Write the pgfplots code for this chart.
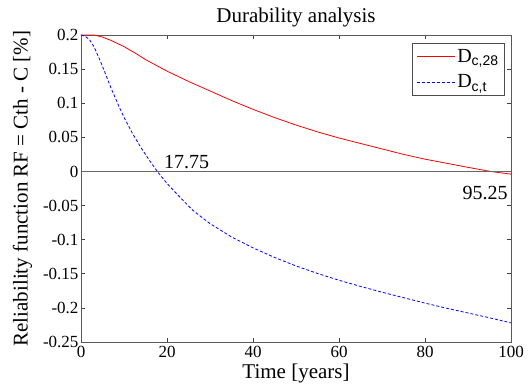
\documentclass[border=0pt]{standalone}
\usepackage{fontspec}
\setmainfont{Liberation Serif}
\newfontfamily\subsans{Liberation Sans}
\usepackage{pgfplots}
\pgfplotsset{compat=1.18}
\pgfplotsset{mylegimg/.style={legend image code/.code={\draw[mark repeat=2,mark phase=2,##1] plot coordinates {(0pt,0pt) (19pt,0pt) (38pt,0pt)};}}}
\begin{document}
\begin{tikzpicture}[x=1pt,y=1pt]
\useasboundingbox (-81,-43) rectangle (451,342);
\begin{axis}[
  at={(0,0)}, anchor=south west,
  scale only axis, width=430pt, height=307pt,
  xmin=0, xmax=100, ymin=-0.25, ymax=0.2,
  xtick={0,20,40,60,80,100},
  ytick={-0.25,-0.2,-0.15,-0.1,-0.05,0,0.05,0.1,0.15,0.2},
  yticklabels={-0.25,-0.2,-0.15,-0.1,-0.05,0,0.05,0.1,0.15,0.2},
  xticklabels={0,20,40,60,80,100},
  tick align=inside, major tick length=4pt,
  tick style={black!75, line width=0.6pt},
  axis line style={black!65, line width=0.8pt},
  ticklabel style={font=\fontsize{17}{20}\selectfont},
  xticklabel style={yshift=-1pt},
  yticklabel style={xshift=1pt},
  title={Durability analysis},
  title style={font=\fontsize{21}{24}\selectfont, yshift=-2pt},
  xlabel={Time [years]},
  ylabel={Reliability function RF = Cth - C [\%]},
  label style={font=\fontsize{21}{24}\selectfont},
  xlabel style={yshift=1pt},
  ylabel style={yshift=4pt},
  mylegimg,
  legend style={at={(0.986,0.974)}, anchor=north east, draw=black!70, line width=0.6pt,
    font=\fontsize{20}{22}\selectfont, inner xsep=4pt, inner ysep=4pt, row sep=7pt},
  legend cell align=left,
  clip=false,
]
\addplot[color=red, draw=red, line width=0.8pt] coordinates {
(0,0.200) (3,0.200) (4,0.1985) (5,0.197) (7,0.192) (10,0.183) (13,0.172) (15,0.164)
(20,0.147) (25,0.132) (30,0.118) (35,0.104) (40,0.091) (45,0.079) (50,0.068) (55,0.058)
(60,0.049) (65,0.041) (70,0.033) (75,0.025) (80,0.018) (85,0.012) (90,0.006) (95.25,0.000) (100,-0.004)
};
\addlegendentry{D\textsubscript{\subsans c,28}}
\addplot[color=blue, draw=blue, line width=0.8pt, dash pattern=on 3pt off 2pt] coordinates {
(0,0.200) (1,0.198) (2,0.193) (3,0.183) (4,0.169) (5,0.154) (6,0.138) (7,0.122) (8,0.1074)
(9,0.0929) (10,0.0794) (12,0.0554) (14,0.0344) (16,0.0154) (17.75,0.000) (20,-0.0176) (23,-0.0377)
(26,-0.057) (30,-0.0765) (35,-0.096) (40,-0.112) (45,-0.126) (50,-0.1385) (55,-0.1495)
(60,-0.1595) (65,-0.1685) (70,-0.177) (75,-0.185) (80,-0.193) (85,-0.2005) (90,-0.2075)
(95,-0.2145) (100,-0.222)
};
\addlegendentry{D\textsubscript{\subsans c,t}}
\addplot[black!60, line width=0.9pt, forget plot] coordinates {(0,0) (100,0)};
\node[anchor=west, font=\fontsize{20}{24}\selectfont, inner sep=0pt] at (axis cs:19.3,0.0145) {17.75};
\node[anchor=west, font=\fontsize{20}{24}\selectfont, inner sep=0pt] at (axis cs:88.7,-0.0315) {95.25};
\end{axis}
\end{tikzpicture}
\end{document}
